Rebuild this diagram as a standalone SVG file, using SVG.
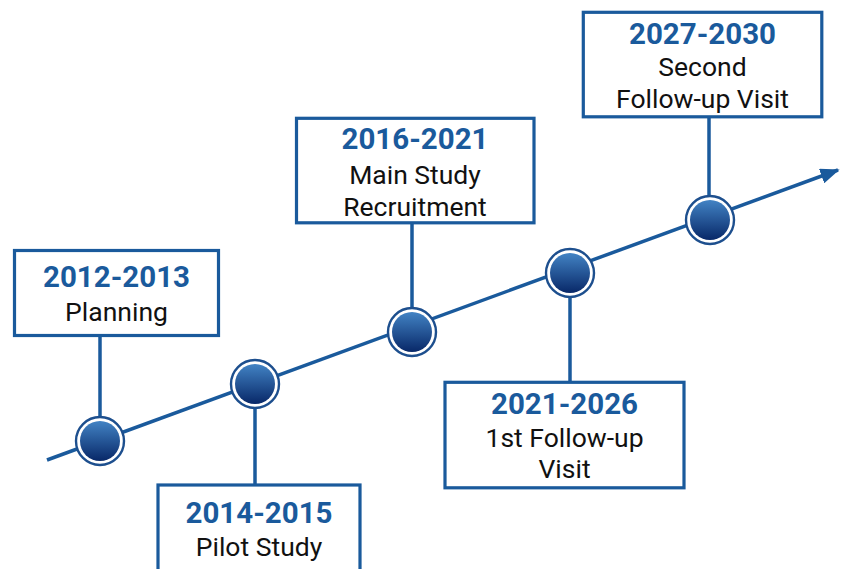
<svg xmlns="http://www.w3.org/2000/svg" width="841" height="569" viewBox="0 0 841 569">
<style>
.box{fill:#fff;stroke:#1a5a9c;stroke-width:3.2}
.conn{stroke:#1a5a9c;stroke-width:3.5;fill:none}
.ring{fill:#fff;stroke:#1d4f8e;stroke-width:2.4}
.dot{fill:url(#g)}
.yr{font-family:Roboto,"Liberation Sans",sans-serif;font-weight:bold;font-size:29.5px;fill:#1a5a9c;text-anchor:middle}
.tx{font-family:Roboto,"Liberation Sans",sans-serif;font-size:26.5px;fill:#111;text-anchor:middle}
</style>
<defs>
<linearGradient id="g" x1="0" y1="0" x2="0" y2="1">
<stop offset="0" stop-color="#4283c4"/>
<stop offset="1" stop-color="#082868"/>
</linearGradient>
<marker id="ah" markerWidth="5.5" markerHeight="4.4" refX="5" refY="2.2" orient="auto" markerUnits="strokeWidth">
<path d="M0,0 L5.5,2.2 L0,4.4 Z" fill="#1a5a9c"/>
</marker>
</defs>
<rect width="841" height="569" fill="#fff"/>
<g id="connectors">
<line class="conn" x1="47" y1="460" x2="838" y2="170" marker-end="url(#ah)"/>
<line class="conn" x1="100" y1="336" x2="100" y2="441"/>
<line class="conn" x1="255" y1="384" x2="255" y2="484"/>
<line class="conn" x1="412" y1="224" x2="412" y2="332"/>
<line class="conn" x1="570" y1="273" x2="570" y2="382"/>
<line class="conn" x1="709" y1="118" x2="709" y2="220"/>
</g>
<g id="node1">
<rect class="box" x="14.5" y="250.5" width="204" height="85"/>
<text class="yr" x="116.5" y="287">2012-2013</text>
<text class="tx" x="116.5" y="321">Planning</text>
</g>
<g id="node2">
<rect class="box" x="158" y="485" width="202" height="100"/>
<text class="yr" x="259" y="523">2014-2015</text>
<text class="tx" x="259" y="556">Pilot Study</text>
</g>
<g id="node3">
<rect class="box" x="296.5" y="118.3" width="237.5" height="104.5"/>
<text class="yr" x="415" y="149">2016-2021</text>
<text class="tx" x="415" y="184">Main Study</text>
<text class="tx" x="415" y="216">Recruitment</text>
</g>
<g id="node4">
<rect class="box" x="445" y="382.3" width="239" height="105.5"/>
<text class="yr" x="564.5" y="414">2021-2026</text>
<text class="tx" x="564.5" y="447">1st Follow-up</text>
<text class="tx" x="564.5" y="478">Visit</text>
</g>
<g id="node5">
<rect class="box" x="583.3" y="12.3" width="238.5" height="104.5"/>
<text class="yr" x="702.5" y="44">2027-2030</text>
<text class="tx" x="702.5" y="76">Second</text>
<text class="tx" x="702.5" y="108">Follow-up Visit</text>
</g>
<g id="dot1"><circle class="ring" cx="100" cy="441" r="24"/><circle class="dot" cx="100" cy="441" r="20"/></g>
<g id="dot2"><circle class="ring" cx="255" cy="384" r="24"/><circle class="dot" cx="255" cy="384" r="20"/></g>
<g id="dot3"><circle class="ring" cx="412" cy="332" r="24"/><circle class="dot" cx="412" cy="332" r="20"/></g>
<g id="dot4"><circle class="ring" cx="570" cy="273" r="24"/><circle class="dot" cx="570" cy="273" r="20"/></g>
<g id="dot5"><circle class="ring" cx="710" cy="220" r="24"/><circle class="dot" cx="710" cy="220" r="20"/></g>
</svg>
